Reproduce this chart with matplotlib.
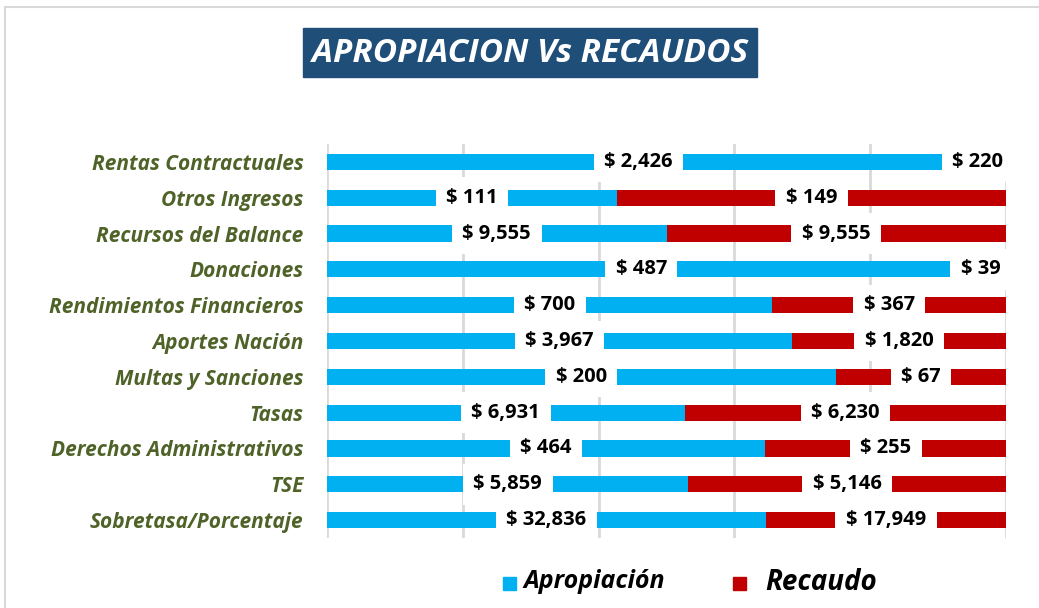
import numpy as np
import matplotlib
matplotlib.use("Agg")
from matplotlib import pyplot as plt
from matplotlib.patches import Rectangle

# datos (de arriba hacia abajo)
categorias = [
    "Rentas Contractuales",
    "Otros Ingresos",
    "Recursos del Balance",
    "Donaciones",
    "Rendimientos Financieros",
    "Aportes Nación",
    "Multas y Sanciones",
    "Tasas",
    "Derechos Administrativos",
    "TSE",
    "Sobretasa/Porcentaje",
]
apropiacion = [2426, 111, 9555, 487, 700, 3967, 200, 6931, 464, 5859, 32836]
recaudo = [220, 149, 9555, 39, 367, 1820, 67, 6230, 255, 5146, 17949]

AZUL = "#00B0F0"
ROJO = "#C00000"
VERDE = "#4F6228"
FONT = ["Open Sans", "DejaVu Sans"]

plt.rcParams["font.family"] = FONT

W, H = 1039, 608
fig = plt.figure(figsize=(W / 100, H / 100), dpi=100)
ax = fig.add_axes([327 / W, 1 - 538 / H, 679 / W, 394 / H])

apr = np.array(apropiacion, dtype=float)
rec = np.array(recaudo, dtype=float)
tot = apr + rec
pa = apr / tot
pr = rec / tot
y = np.arange(len(categorias))

ax.barh(y, pa, height=0.45, color=AZUL, zorder=2)
ax.barh(y, pr, left=pa, height=0.45, color=ROJO, zorder=2)

# etiquetas con fondo blanco
for i in range(len(categorias)):
    for centro, valor in [(pa[i] / 2, apropiacion[i]), (pa[i] + pr[i] / 2, recaudo[i])]:
        ax.text(centro, y[i], "$ {:,}".format(valor), ha="center", va="center",
                fontsize=14.5, fontweight="bold", color="black", zorder=4,
                bbox=dict(facecolor="white", edgecolor="none", pad=7.5))

ax.set_xlim(0, 1)
ax.set_ylim(len(categorias) - 0.5, -0.5)
ax.set_xticks([0, 0.2, 0.4, 0.6, 0.8, 1.0])
ax.set_xticklabels([])
ax.tick_params(axis="x", length=0)
ax.grid(axis="x", color="#D9D9D9", linewidth=2, zorder=0)
ax.set_axisbelow(True)
for s in ax.spines.values():
    s.set_visible(False)

ax.set_yticks(y)
ax.set_yticklabels(categorias, fontsize=15, fontweight="bold", fontstyle="italic", color=VERDE)
ax.tick_params(axis="y", length=0, pad=17)

# titulo
fig.patches.append(Rectangle((303 / W, 1 - 77 / H), 454 / W, 49 / H,
                             transform=fig.transFigure, color="#1F4E79", figure=fig))
fig.text(530 / W, 1 - 53 / H, "APROPIACION Vs RECAUDOS", ha="center", va="center",
         fontsize=24, fontweight="bold", fontstyle="italic", color="white")

# leyenda
fig.patches.append(Rectangle((503 / W, 1 - 590 / H), 13 / W, 13 / H,
                             transform=fig.transFigure, color=AZUL, figure=fig))
fig.text(523 / W, 1 - 581 / H, "Apropiación", ha="left", va="center",
         fontsize=18, fontweight="bold", fontstyle="italic", color="black")
fig.patches.append(Rectangle((733 / W, 1 - 590 / H), 13 / W, 13 / H,
                             transform=fig.transFigure, color=ROJO, figure=fig))
fig.text(765 / W, 1 - 582 / H, "Recaudo", ha="left", va="center",
         fontsize=20, fontweight="bold", fontstyle="italic", color="black")

# marco gris
fig.patches.append(Rectangle((5 / W, -0.01), 1.02, 1 - 7 / H + 0.01,
                             transform=fig.transFigure, fill=False,
                             edgecolor="#D9D9D9", linewidth=1.5, figure=fig))

fig.savefig("out.png", dpi=100)
